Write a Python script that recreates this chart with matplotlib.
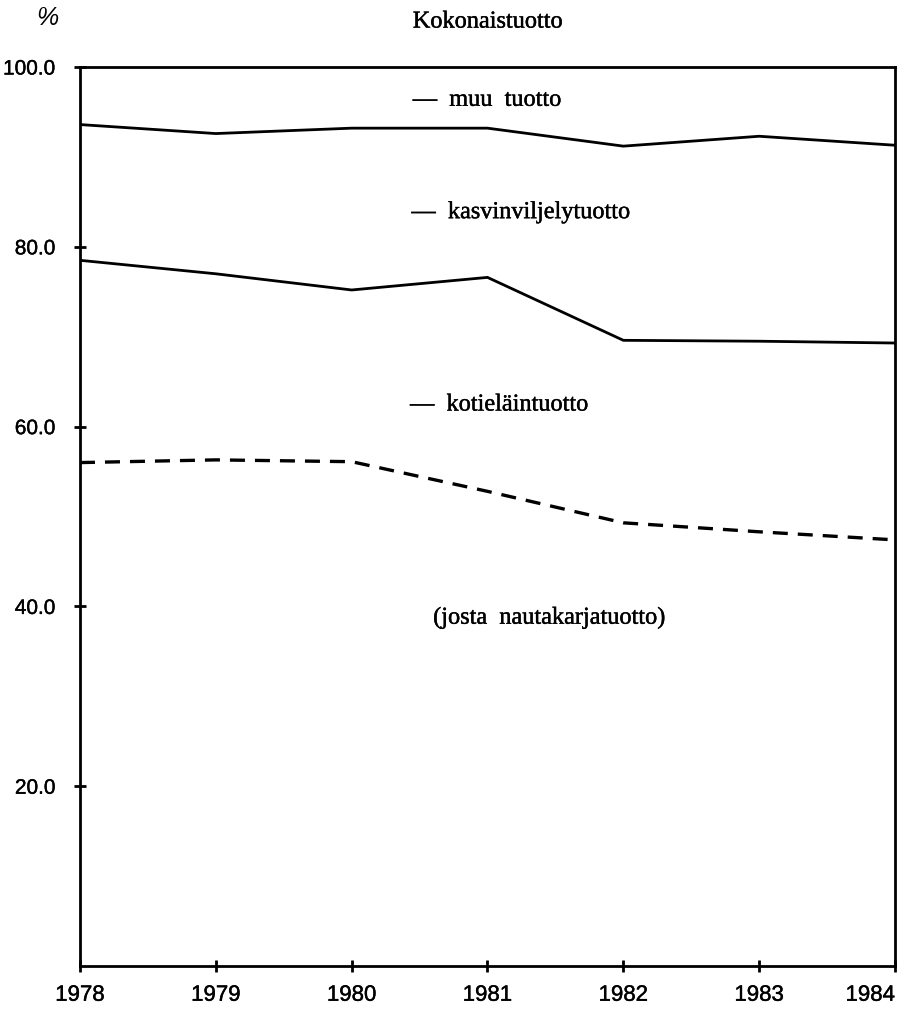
import matplotlib.pyplot as plt
import matplotlib.patheffects as pe

# vuodet ja tuotto-osuudet (% kokonaistuotosta), luettu kuvasta
years = [1978, 1979, 1980, 1981, 1982, 1983, 1984]
muu_raja = [93.6, 92.6, 93.2, 93.2, 91.2, 92.3, 91.3]        # kasvinviljely + kotielain
kotielain = [78.5, 77.0, 75.2, 76.6, 69.6, 69.5, 69.3]
nautakarja = [56.0, 56.3, 56.1, 52.8, 49.3, 48.3, 47.4]

y_ticks = [20, 40, 60, 80, 100]
y_ticklabels = ["20.0", "40.0", "60.0", "80.0", "100.0"]

serif = ["Liberation Serif", "DejaVu Serif"]
sans = ["Liberation Sans", "DejaVu Sans"]
ink = [pe.withStroke(linewidth=0.3, foreground="black")]

fig = plt.figure(figsize=(9.13, 10.11), dpi=100)
ax = fig.add_axes([0.0876, 0.0445, 0.8927, 0.8892])

lw = 2.0
ax.plot(years, muu_raja, color="black", lw=lw, solid_joinstyle="miter")
ax.plot(years, kotielain, color="black", lw=lw, solid_joinstyle="miter")
ax.plot(years, nautakarja, color="black", lw=2.4, dashes=(4.5, 3.0))

ax.set_xlim(years[0], years[-1])
ax.set_ylim(0, 100)

for side in ["left", "right", "top", "bottom"]:
    ax.spines[side].set_linewidth(2.0)
    ax.spines[side].set_color("black")

ax.set_xticks(years)
ax.set_xticklabels([str(y) for y in years], family=sans, fontsize=16)
ax.set_yticks(y_ticks)
ax.set_yticklabels(y_ticklabels, family=sans, fontsize=15)
ax.tick_params(axis="both", direction="inout", length=9, width=2.0, color="black")
ax.tick_params(axis="x", pad=9)
ax.tick_params(axis="y", pad=13)

for lab in ax.get_xticklabels() + ax.get_yticklabels():
    lab.set_path_effects(ink)

# viimeinen vuosi on kuvassa reunaa vasten
ax.get_xticklabels()[-1].set_horizontalalignment("right")
ax.get_xticklabels()[-1].set_x(years[-1] + 0.12)

# tekstit
ax.text(1980.45, 105.0, "Kokonaistuotto", family=serif, fontsize=17.5,
        ha="left", va="center", clip_on=False, path_effects=ink)
ax.text(1977.76, 105.4, "%", family=sans, fontsize=18, style="italic",
        ha="center", va="center", clip_on=False)
ax.text(1980.45, 96.3, "—  muu  tuotto", family=serif, fontsize=17.5,
        ha="left", va="center", path_effects=ink)
ax.text(1980.44, 83.8, "—  kasvinviljelytuotto", family=serif, fontsize=17.5,
        ha="left", va="center", path_effects=ink)
ax.text(1980.43, 62.4, "—  kotieläintuotto", family=serif, fontsize=17.5,
        ha="left", va="center", path_effects=ink)
ax.text(1980.6, 38.7, "(josta  nautakarjatuotto)", family=serif, fontsize=17.5,
        ha="left", va="center", path_effects=ink)

fig.savefig("out.png", dpi=100)
